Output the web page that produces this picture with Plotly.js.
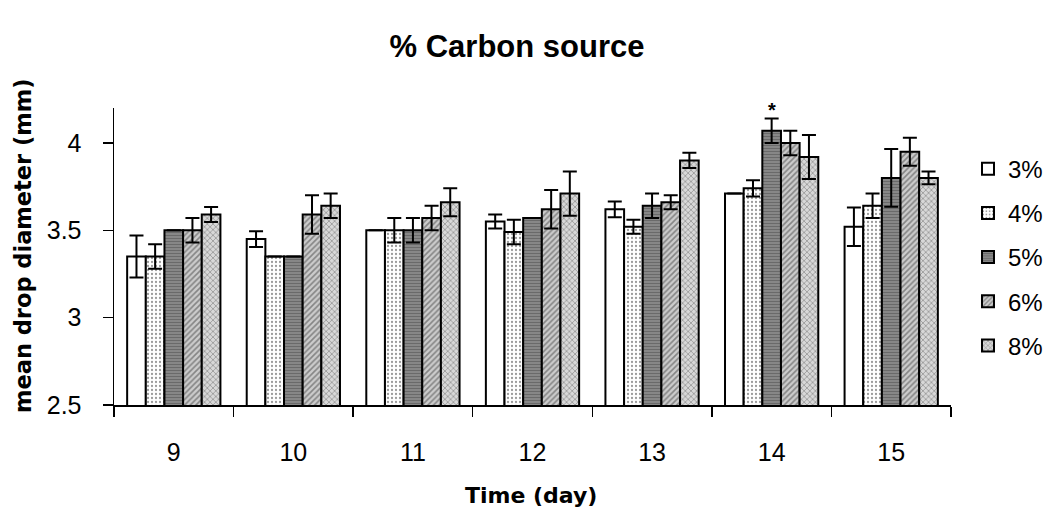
<!DOCTYPE html>
<html>
<head>
<meta charset="utf-8">
<script src="https://cdn.plot.ly/plotly-3.0.1.min.js"></script>
<style>
  html, body { margin: 0; padding: 0; background: #fff; }
  #chart { width: 1050px; height: 515px; }
</style>
</head>
<body>
<div id="chart"></div>
<script>
// Mean drop diameter (mm) by day, for each carbon source concentration
const days = ['9', '10', '11', '12', '13', '14', '15'];

const mean3 = [3.35, 3.45, 3.50, 3.55, 3.62, 3.71, 3.52];
const mean4 = [3.35, 3.35, 3.50, 3.49, 3.52, 3.74, 3.64];
const mean5 = [3.50, 3.35, 3.50, 3.57, 3.64, 4.07, 3.80];
const mean6 = [3.50, 3.59, 3.57, 3.62, 3.66, 4.00, 3.95];
const mean8 = [3.59, 3.64, 3.66, 3.71, 3.90, 3.92, 3.80];

// standard errors (null where no bar is shown)
const err3 = [0.12, 0.045, null, 0.04, 0.045, null, 0.11];
const err4 = [0.07, null, 0.07, 0.07, 0.04, 0.046, 0.07];
const err5 = [null, null, 0.07, null, 0.07, 0.07, 0.165];
const err6 = [0.07, 0.11, 0.07, 0.11, 0.04, 0.07, 0.08];
const err8 = [0.043, 0.07, 0.08, 0.127, 0.044, 0.126, 0.037];

const seriesNames = ['3%', '4%', '5%', '6%', '8%'];
const means = [mean3, mean4, mean5, mean6, mean8];
const errs = [err3, err4, err5, err6, err8];

// significance marker above the 5% bar of day 14
const starDay = '14';
const starY = 4.19;

const fills = [
  { shape: '', bgcolor: '#ffffff', fgcolor: '#ffffff', size: 4, solidity: 0.2 },
  { shape: '.', bgcolor: '#ffffff', fgcolor: '#9a9a9a', size: 4, solidity: 0.25 },
  { shape: '-', bgcolor: '#8a8a8a', fgcolor: '#6a6a6a', size: 3, solidity: 0.4 },
  { shape: '/', bgcolor: '#cccccc', fgcolor: '#858585', size: 4, solidity: 0.4 },
  { shape: 'x', bgcolor: '#d8d8d8', fgcolor: '#858585', size: 4, solidity: 0.3 }
];

const traces = seriesNames.map((name, i) => ({
  type: 'bar',
  name: name,
  legendgroup: name,
  x: days,
  y: means[i],
  marker: {
    color: fills[i].bgcolor,
    line: { color: '#000', width: 2 },
    pattern: fills[i].shape ? {
      shape: fills[i].shape,
      bgcolor: fills[i].bgcolor,
      fgcolor: fills[i].fgcolor,
      fgopacity: 1,
      size: fills[i].size,
      solidity: fills[i].solidity
    } : undefined
  },
  error_y: {
    type: 'data',
    array: errs[i],
    visible: true,
    color: '#000',
    thickness: 2,
    width: 7
  },
  hoverinfo: 'x+y'
}));

const tickFont = { family: 'Liberation Sans, Arial, sans-serif', size: 25, color: '#000' };
const axisTitleFont = { family: 'DejaVu Sans, Verdana, sans-serif', size: 22, color: '#000' };

const layout = {
  width: 1050,
  height: 515,
  paper_bgcolor: '#fff',
  plot_bgcolor: '#fff',
  margin: { l: 114, r: 99, t: 108, b: 110, autoexpand: false },
  title: {
    text: '<b>% Carbon source</b>',
    font: { family: 'Liberation Sans, Arial, sans-serif', size: 31, color: '#000' },
    x: 0.4924, xanchor: 'center',
    y: 0.91, yanchor: 'middle'
  },
  barmode: 'group',
  bargap: 0.22,
  bargroupgap: 0,
  xaxis: {
    type: 'category',
    range: [-0.5, days.length - 0.5],
    tickson: 'boundaries',
    ticks: 'outside',
    ticklen: 10,
    tickwidth: 1.5,
    tickcolor: '#000',
    ticklabelstandoff: 24,
    showline: true,
    linecolor: '#000',
    linewidth: 1.5,
    showgrid: false,
    zeroline: false,
    tickfont: tickFont
  },
  yaxis: {
    range: [2.5, 4.2],
    dtick: 0.5,
    tick0: 2.5,
    ticks: 'outside',
    ticklen: 10,
    tickwidth: 1.5,
    tickcolor: '#000',
    ticklabelstandoff: 16,
    showline: true,
    linecolor: '#000',
    linewidth: 1.5,
    showgrid: false,
    zeroline: false,
    tickfont: tickFont
  },
  legend: {
    x: 0.021, xanchor: 'left', xref: 'paper',
    y: 0.87, yanchor: 'top',
    tracegroupgap: 10,
    font: { family: 'Liberation Sans, Arial, sans-serif', size: 24, color: '#000' },
    bgcolor: 'rgba(0,0,0,0)'
  },
  annotations: [
    {
      x: days.indexOf(starDay),
      y: starY,
      xref: 'x',
      yref: 'y',
      text: '<b>*</b>',
      showarrow: false,
      font: { family: 'Liberation Sans, Arial, sans-serif', size: 20, color: '#000' }
    },
    {
      x: 531, y: 515 - 495,
      xref: 'paper', yref: 'paper',
      text: '<b>Time (day)</b>',
      showarrow: false,
      font: axisTitleFont
    },
    {
      x: 23, y: 515 - 246,
      xref: 'paper', yref: 'paper',
      text: '<b>mean drop diameter (mm)</b>',
      textangle: -90,
      showarrow: false,
      font: { family: 'DejaVu Sans, Verdana, sans-serif', size: 22.5, color: '#000' }
    }
  ]
};

// axis titles and legend are placed in pixels; convert to paper fractions
const plotW = layout.width - layout.margin.l - layout.margin.r;
const plotH = layout.height - layout.margin.t - layout.margin.b;
layout.annotations.slice(1).forEach(a => {
  a.x = (a.x - layout.margin.l) / plotW;
  a.y = (a.y - layout.margin.b) / plotH;
  a.xanchor = 'center';
  a.yanchor = 'middle';
});
layout.legend.x = (968 - layout.margin.l) / plotW;

Plotly.newPlot('chart', traces, layout, { displayModeBar: false, staticPlot: true });
</script>
</body>
</html>
